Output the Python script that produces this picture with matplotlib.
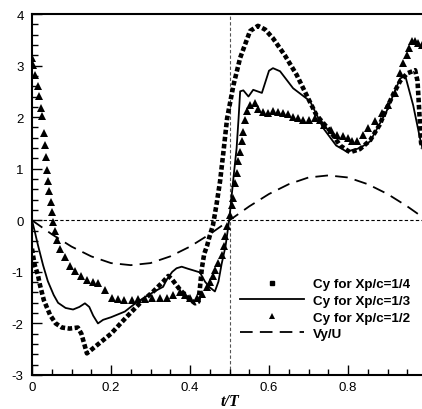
import numpy as np
import matplotlib
matplotlib.use("Agg")
import matplotlib.pyplot as plt
import matplotlib.ticker as ticker

plt.rcParams["font.family"] = ["Liberation Sans", "DejaVu Sans"]

# ── data ─────────────────────────────────────────────────────────────────────
# Cy for Xp/c=1/4 (dense square markers)
sq_t = [0.000, 0.003, 0.007, 0.015, 0.020, 0.030, 0.046, 0.060, 0.076, 0.095,
        0.116, 0.125, 0.139, 0.160, 0.200, 0.240, 0.273, 0.307, 0.332, 0.345,
        0.354, 0.375, 0.396, 0.413, 0.421, 0.425, 0.430, 0.436, 0.443, 0.450,
        0.458, 0.467, 0.476, 0.485, 0.494, 0.510, 0.527, 0.552, 0.572, 0.590,
        0.610, 0.640, 0.670, 0.700, 0.720, 0.755, 0.780, 0.805, 0.830, 0.856,
        0.880, 0.898, 0.915, 0.932, 0.950, 0.970, 0.976, 0.979, 0.982, 0.985,
        0.990]
sq_cy = [-0.55, -0.70, -0.87, -1.06, -1.25, -1.55, -1.84, -2.00, -2.08, -2.10,
         -2.08, -2.20, -2.58, -2.45, -2.20, -1.87, -1.61, -1.38, -1.19, -1.08,
         -1.14, -1.35, -1.51, -1.61, -1.58, -1.32, -0.93, -0.65, -0.50, -0.30,
         -0.10, 0.30, 0.75, 1.35, 1.98, 2.62, 3.15, 3.67, 3.77, 3.70,
         3.53, 3.20, 2.82, 2.35, 2.04, 1.73, 1.45, 1.32, 1.38, 1.55,
         1.85, 2.17, 2.45, 2.70, 2.85, 2.91, 2.70, 2.30, 1.90, 1.50,
         1.40]

# Cy for Xp/c=1/3 (solid line)
so_t = [0.000, 0.008, 0.015, 0.028, 0.040, 0.055, 0.066, 0.085, 0.104, 0.120,
        0.134, 0.145, 0.155, 0.167, 0.180, 0.200, 0.235, 0.260, 0.282, 0.310,
        0.332, 0.341, 0.355, 0.366, 0.379, 0.395, 0.408, 0.425, 0.438, 0.450,
        0.463, 0.472, 0.480, 0.490, 0.500, 0.509, 0.518, 0.523, 0.527, 0.535,
        0.548, 0.560, 0.582, 0.600, 0.610, 0.628, 0.661, 0.704, 0.737, 0.770,
        0.797, 0.830, 0.856, 0.898, 0.932, 0.945, 0.965, 0.982, 0.990]
so_cy = [0.00, -0.25, -0.48, -0.87, -1.18, -1.45, -1.60, -1.70, -1.73, -1.68,
         -1.61, -1.68, -1.85, -2.00, -1.93, -1.88, -1.77, -1.62, -1.51, -1.38,
         -1.29, -1.15, -1.00, -0.93, -0.90, -0.94, -0.97, -1.01, -1.19, -1.30,
         -1.38, -1.19, -0.85, -0.50, 0.05, 0.75, 1.40, 1.98, 2.50, 2.52,
         2.40, 2.53, 2.47, 2.90, 2.95, 2.89, 2.56, 2.31, 1.79, 1.45,
         1.33, 1.40, 1.53, 2.12, 2.75, 2.80, 2.23, 1.60, 1.35]

# Cy for Xp/c=1/2 (triangles)
tr_t = [0.000, 0.003, 0.008, 0.015, 0.018, 0.024, 0.026, 0.030, 0.034, 0.036,
        0.039, 0.041, 0.044, 0.047, 0.050, 0.053, 0.057, 0.064, 0.070, 0.083,
        0.095, 0.108, 0.123, 0.139, 0.154, 0.167, 0.185, 0.202, 0.218, 0.233,
        0.252, 0.269, 0.286, 0.303, 0.324, 0.341, 0.358, 0.375, 0.387, 0.400,
        0.417, 0.430, 0.442, 0.451, 0.459, 0.463, 0.472, 0.481, 0.486, 0.489,
        0.493, 0.502, 0.506, 0.509, 0.514, 0.518, 0.522, 0.527, 0.531, 0.534,
        0.539, 0.544, 0.552, 0.565, 0.573, 0.586, 0.598, 0.611, 0.624, 0.636,
        0.649, 0.662, 0.674, 0.687, 0.700, 0.716, 0.729, 0.739, 0.757, 0.771,
        0.788, 0.801, 0.809, 0.822, 0.839, 0.851, 0.868, 0.885, 0.902, 0.919,
        0.932, 0.940, 0.950, 0.954, 0.961, 0.970, 0.978, 0.987]
tr_cy = [3.15, 3.02, 2.82, 2.60, 2.41, 2.17, 2.02, 1.69, 1.46, 1.22,
         0.98, 0.76, 0.56, 0.36, 0.17, -0.04, -0.21, -0.38, -0.56, -0.72,
         -0.89, -0.99, -1.09, -1.16, -1.19, -1.22, -1.35, -1.50, -1.53, -1.55,
         -1.55, -1.53, -1.53, -1.50, -1.50, -1.50, -1.45, -1.40, -1.45, -1.51,
         -1.51, -1.42, -1.29, -1.19, -1.09, -0.97, -0.83, -0.67, -0.49, -0.31,
         -0.11, 0.10, 0.29, 0.43, 0.72, 0.91, 1.14, 1.33, 1.53, 1.72,
         1.95, 2.11, 2.24, 2.27, 2.16, 2.10, 2.08, 2.11, 2.10, 2.08,
         2.06, 2.01, 1.98, 1.95, 1.95, 1.98, 1.95, 1.85, 1.75, 1.66,
         1.63, 1.59, 1.53, 1.53, 1.66, 1.79, 1.92, 2.08, 2.24, 2.47,
         2.85, 3.05, 3.21, 3.34, 3.47, 3.47, 3.44, 3.40]

# Vy/U (dashed)
vy_t = [0.00, 0.05, 0.10, 0.15, 0.20, 0.25, 0.30, 0.35, 0.40, 0.45, 0.50,
        0.55, 0.60, 0.65, 0.70, 0.75, 0.80, 0.85, 0.90, 0.95, 1.00]
vy_u = [0.00, -0.27, -0.51, -0.70, -0.83, -0.87, -0.83, -0.70, -0.51, -0.27, 0.00,
        0.27, 0.51, 0.70, 0.83, 0.87, 0.83, 0.70, 0.51, 0.27, 0.00]

labels = ["Cy for Xp/c=1/4", "Cy for Xp/c=1/3", "Cy for Xp/c=1/2", "Vy/U"]

# ── figure ───────────────────────────────────────────────────────────────────
fig = plt.figure(figsize=(4.22, 4.10), dpi=100)
ax = fig.add_axes([32 / 422, 34 / 410, 395 / 422, 361 / 410])

# reference lines
ax.axhline(0, color="black", lw=0.8, ls=(0, (3, 2)), zorder=1)
ax.axvline(0.5, color="#555555", lw=0.8, ls=(0, (3, 2)), zorder=1)

# squares drawn as a thick dotted path
ax.plot(sq_t, sq_cy, color="black", lw=3.3, ls=(0, (1, 0.55)),
        dash_capstyle="butt", zorder=3)
ax.plot(so_t, so_cy, color="black", lw=1.3, zorder=4)
ax.plot(tr_t, tr_cy, ls="none", marker="^", ms=5.2, color="black",
        markeredgewidth=0, zorder=5)
ax.plot(vy_t, vy_u, color="black", lw=1.3, ls=(0, (7, 4)), zorder=2)

# legend proxies
h1, = ax.plot([], [], ls="none", marker="s", ms=3.5, color="black")
h2, = ax.plot([], [], color="black", lw=1.3)
h3, = ax.plot([], [], ls="none", marker="^", ms=5, color="black", markeredgewidth=0)
h4, = ax.plot([], [], color="black", lw=1.3, ls=(0, (7, 4)))
ax.legend([h1, h2, h3, h4], labels, loc="upper left",
          bbox_to_anchor=((240 - 32) / 395, (376 - 279) / 361),
          frameon=False, prop={"weight": "bold", "size": 9.6},
          handlelength=4.8, handletextpad=0.7, labelspacing=0.32,
          borderpad=0, borderaxespad=0)

ax.set_xlim(0, 1)
ax.set_ylim(-3, 4)
ax.set_xticks([0, 0.2, 0.4, 0.6, 0.8])
ax.xaxis.set_minor_locator(ticker.MultipleLocator(0.05))
ax.yaxis.set_major_locator(ticker.MultipleLocator(1))
ax.yaxis.set_minor_locator(ticker.MultipleLocator(0.2))
ax.xaxis.set_major_formatter(ticker.FuncFormatter(lambda v, _: "0" if v == 0 else f"{v:.1f}"))
ax.yaxis.set_major_formatter(ticker.FuncFormatter(lambda v, _: f"{int(round(v))}"))

ax.tick_params(which="both", direction="in", top=False, right=False, width=1.0)
ax.tick_params(which="major", length=7, labelsize=9.5)
ax.tick_params(axis="y", which="major", pad=6)
ax.tick_params(axis="x", which="major", pad=4)
ax.tick_params(which="minor", length=4)
for s in ax.spines.values():
    s.set_linewidth(1.5)

ax.set_xlabel("t/T", family=["Liberation Serif", "DejaVu Serif"], style="italic",
              weight="bold", fontsize=11.5, labelpad=0)

fig.savefig("out.png", dpi=100)
